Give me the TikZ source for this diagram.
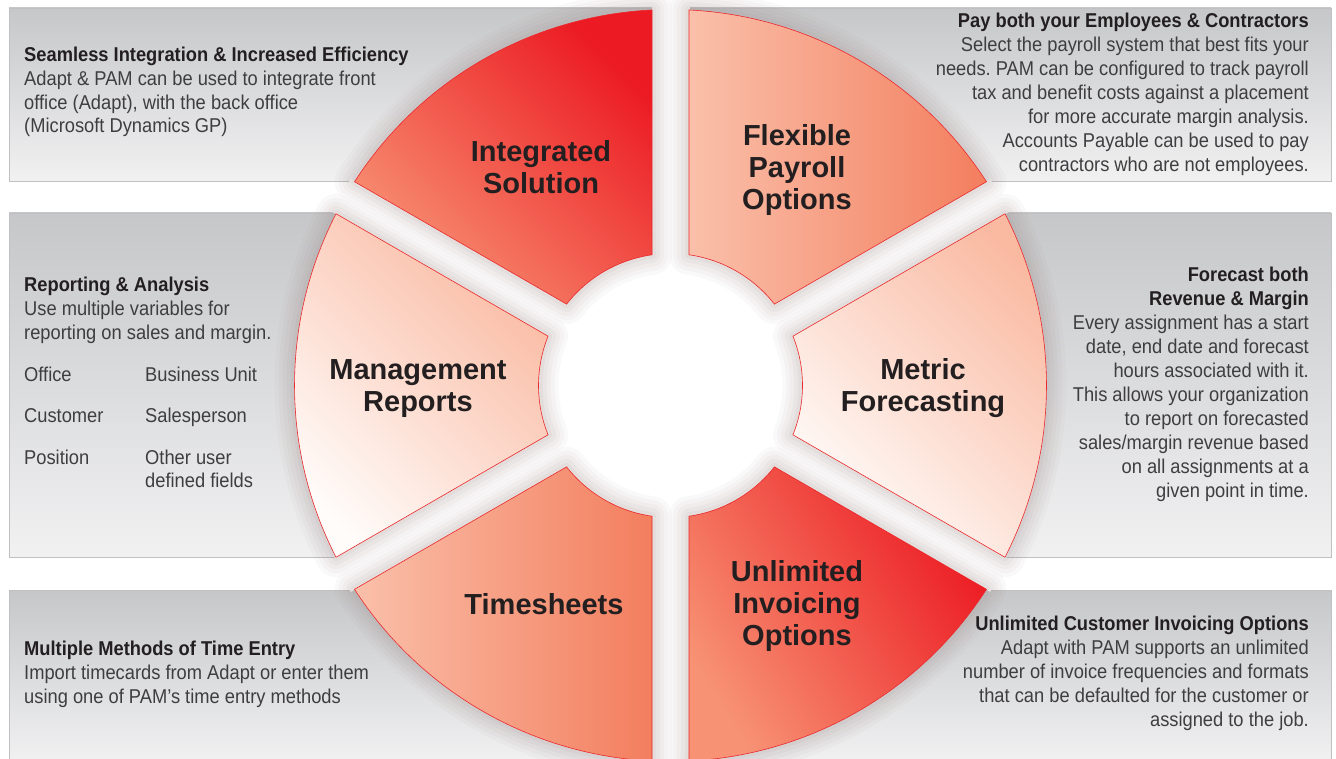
\documentclass[tikz,border=0pt]{standalone}
\usepackage{fontspec}
\setmainfont{Liberation Sans}[FakeStretch=0.915]
\newfontfamily\titlefont{Liberation Sans}
\frenchspacing
\definecolor{boxtop}{RGB}{198,199,201}
\definecolor{boxbot}{RGB}{241,241,242}
\definecolor{boxline}{RGB}{192,192,194}
\definecolor{redA}{RGB}{236,26,34}
\definecolor{redB}{RGB}{247,146,116}
\definecolor{salA}{RGB}{250,192,170}
\definecolor{salB}{RGB}{243,126,94}
\definecolor{pinkA}{RGB}{250,186,162}
\definecolor{pinkB}{RGB}{255,252,250}
\definecolor{edgec}{RGB}{236,40,44}
\definecolor{shadowc}{RGB}{150,126,124}
\definecolor{titlec}{RGB}{35,31,32}
\definecolor{bodyc}{RGB}{62,62,64}
\newcommand{\sectorpath}[2]{({#1+8.06}:132) -- ({#1+2.82}:376) arc[start angle={#1+2.82}, end angle={#2-2.82}, radius=376] -- ({#2-8.06}:132) arc[start angle={#2-8.06}, end angle={#1+8.06}, radius=132] -- cycle}
\newcommand{\hd}[1]{{\color{titlec}\bfseries #1}}
\tikzset{
  infobox/.style={top color=boxtop, bottom color=boxbot, draw=boxline, line width=0.8pt},
  redsec/.style={draw=edgec, line width=0.6pt, top color=redA, bottom color=redB},
  salsec/.style={draw=edgec, line width=0.6pt, left color=salA, right color=salB},
  pinksec/.style={draw=edgec, line width=0.6pt, top color=pinkA, bottom color=pinkB, shading angle=-45},
  title/.style={font=\titlefont\bfseries\fontsize{29}{31.8}\selectfont, text=titlec, align=center, inner sep=0pt},
  body/.style={font=\frenchspacing\fontsize{20}{24}\selectfont, text=bodyc, inner sep=0pt},
}
\begin{document}
\begin{tikzpicture}[x=1pt, y=-1pt]
\useasboundingbox (0,0) rectangle (1336,759);
\fill[white] (0,0) rectangle (1336,759);
% info boxes
\path[infobox] (9,8) rectangle (665,181);
\path[infobox] (676,8) rectangle (1331,181);
\path[infobox] (9,213) rectangle (640,557);
\path[infobox] (700,213) rectangle (1331,557);
\path[infobox] (9,590) rectangle (660,762);
\path[infobox] (680,590) rectangle (1331,762);
\coordinate (C) at (670.5,385.5);
\begin{scope}[shift={(C)}, y=1pt]
  % white hub and gaps
  \fill[white] (0,0) circle[radius=134];
  \foreach \a in {30,90,...,330} \fill[white, rotate=\a] (0,-19) rectangle (380,19);
  % soft shadows
  \foreach \a in {-30,30,90,150,210,270}{
    \foreach \w/\o in {40/0.04,32/0.05,24/0.05,16/0.06,8/0.07}{
      \draw[shadowc, line width=\w pt, opacity=\o, line join=round] \sectorpath{\a}{\a+60};
    }
  }
  % sectors
  \path[salsec] \sectorpath{30}{90};
  \path[redsec, shading angle=-45] \sectorpath{90}{150};
  \path[pinksec] \sectorpath{150}{210};
  \path[salsec] \sectorpath{210}{270};
  \path[redsec, shading angle=-58] \sectorpath{270}{330};
  \path[pinksec] \sectorpath{-30}{30};
\end{scope}
% sector titles (anchored at the baseline of the last line)
\node[title, anchor=base] (tIS) at (541,193.5) {Integrated\\Solution};
\node[title, anchor=base] (tFP) at (797,209.3) {Flexible\\Payroll\\Options};
\node[title, anchor=base] (tMR) at (418,411.7) {Management\\Reports};
\node[title, anchor=base] (tMF) at (923,411.7) {Metric\\Forecasting};
\node[title, anchor=base] (tTS) at (544,614) {Timesheets};
\node[title, anchor=base] (tUI) at (797,645) {Unlimited\\Invoicing\\Options};
% texts (anchored at the baseline of the last line)
\node[body, anchor=base west, align=left, font=\fontsize{20}{23.7}\selectfont] (bTL) at (24,132.8) {\hd{Seamless Integration \& Increased Efficiency}\\Adapt \& PAM can be used to integrate front\\office (Adapt), with the back office\\(Microsoft Dynamics GP)};
\node[body, anchor=base east, align=right] (bTR) at (1309,171.3) {\hd{Pay both your Employees \& Contractors}\\Select the payroll system that best fits your\\needs. PAM can be configured to track payroll\\tax and benefit costs against a placement\\for more accurate margin analysis.\\Accounts Payable can be used to pay\\contractors who are not employees.};
\node[body, anchor=base west, align=left] (bML) at (24,339.5) {\hd{Reporting \& Analysis}\\Use multiple variables for\\reporting on sales and margin.};
\node[body, anchor=base west] (v1) at (24,381) {Office};
\node[body, anchor=base west] (v2) at (145,381) {Business Unit};
\node[body, anchor=base west] (v3) at (24,422.5) {Customer};
\node[body, anchor=base west] (v4) at (145,422.5) {Salesperson};
\node[body, anchor=base west] (v5) at (24,464) {Position};
\node[body, anchor=base west, align=left, font=\fontsize{20}{23.5}\selectfont] (v6) at (145,487.5) {Other user\\defined fields};
\node[body, anchor=base east, align=right] (bMR) at (1309,497.7) {\hd{Forecast both}\\\hd{Revenue \& Margin}\\Every assignment has a start\\date, end date and forecast\\hours associated with it.\\This allows your organization\\to report on forecasted\\sales/margin revenue based\\on all assignments at a\\given point in time.};
\node[body, anchor=base west, align=left] (bBL) at (24,703) {\hd{Multiple Methods of Time Entry}\\Import timecards from Adapt or enter them\\using one of PAM’s time entry methods};
\node[body, anchor=base east, align=right] (bBR) at (1309,726.7) {\hd{Unlimited Customer Invoicing Options}\\Adapt with PAM supports an unlimited\\number of invoice frequencies and formats\\that can be defaulted for the customer or\\assigned to the job.};
\end{tikzpicture}
\end{document}
